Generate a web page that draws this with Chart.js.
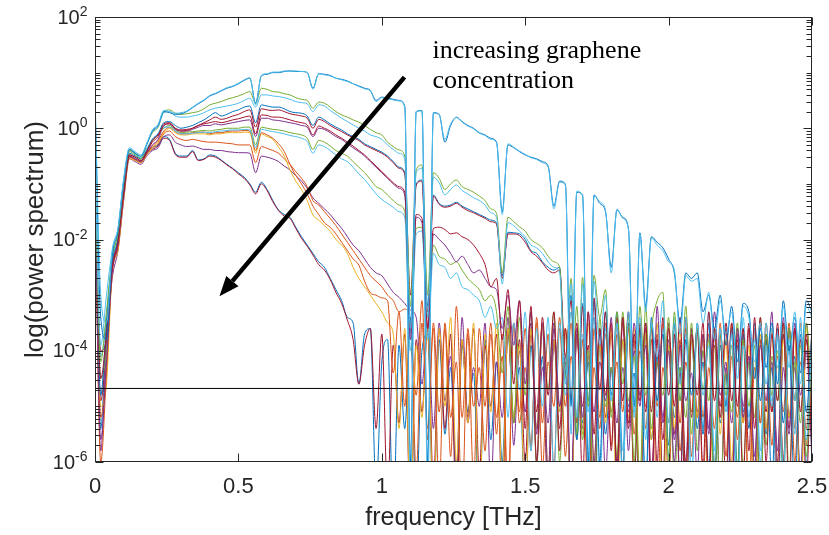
<!DOCTYPE html>
<html>
<head>
<meta charset="utf-8">
<script src="https://cdn.jsdelivr.net/npm/chart.js@4.4.1/dist/chart.umd.min.js"></script>
<style>
  html, body { margin: 0; padding: 0; background: #fff; }
  #wrap { width: 829px; height: 535px; }
</style>
</head>
<body>
<div id="wrap"><canvas id="spectrumChart"></canvas></div>
<script>
// frequency grid [THz], 0 .. 2.5 in steps of 0.02
const freq = Array.from({ length: 126 }, (_, i) => +(i * 0.02).toFixed(2));

// log10(power spectrum), one array per trace
const A1 = [0.5,-3.4,-3.8,-2.3,-1.85,-0.95,-0.38,-0.45,-0.5,-0.3,
  -0.05,0.05,0.3,0.28,0.25,0.26,0.3,0.37,0.44,0.5,
  0.58,0.62,0.67,0.72,0.75,0.8,0.86,0.9,0.45,0.94,
  0.97,1.0,1.0,1.02,1.03,1.02,1.02,1.0,0.72,0.98,
  0.97,0.95,0.9,0.88,0.85,0.8,0.76,0.72,0.68,0.5,
  0.56,0.54,0.52,0.5,0.4,-6,0.3,0.32,-6,0.28,
  0.25,-0.25,0.05,0.2,0.12,0.05,0.0,-0.08,-0.12,-0.18,
  -0.25,-1.5,-0.3,-0.35,-0.42,-0.48,-0.52,-0.55,-0.6,-0.68,
  -1.4,-0.95,-1.0,-5,-1.15,-1.2,-6,-1.2,-1.35,-1.5,
  -2.5,-1.47,-1.6,-1.8,-5,-1.88,-3.2,-1.95,-2.05,-2.15,
  -2.35,-2.6,-3.5,-2.6,-2.7,-2.6,-3.3,-3.0,-3.6,-3.0,
  -3.9,-3.2,-4.2,-3.15,-3.3,-4.5,-3.6,-4.3,-3.5,-4.6,
  -3.1,-4.0,-3.4,-4.4,-3.1,-3.3];
const A2 = [0.6,-3.0,-3.5,-2.2,-1.8,-0.9,-0.35,-0.42,-0.48,-0.28,
  -0.03,0.07,0.32,0.3,0.27,0.28,0.31,0.38,0.45,0.51,
  0.59,0.63,0.68,0.73,0.76,0.81,0.87,0.91,0.42,0.95,
  0.98,1.01,1.01,1.03,1.03,1.03,1.02,1.0,0.7,0.98,
  0.96,0.94,0.9,0.87,0.84,0.8,0.75,0.71,0.67,0.48,
  0.55,0.53,0.51,0.49,0.38,-6.5,0.3,0.31,-6.5,0.27,
  0.24,-0.2,0.08,0.19,0.11,0.04,-0.01,-0.09,-0.13,-0.2,
  -0.26,-1.55,-0.28,-0.34,-0.41,-0.47,-0.53,-0.56,-0.62,-0.7,
  -1.45,-0.97,-1.02,-5.5,-1.13,-1.22,-6.5,-1.22,-1.32,-1.48,
  -2.6,-1.45,-1.62,-1.82,-5.2,-1.9,-3.3,-1.97,-2.1,-2.2,
  -2.4,-2.55,-3.7,-2.65,-2.75,-2.7,-3.5,-2.95,-3.8,-3.1,
  -3.7,-3.3,-4.5,-3.2,-3.4,-4.2,-3.5,-4.6,-3.6,-4.3,
  -3.2,-4.3,-3.3,-4.6,-3.2,-3.4];
const B1 = [-0.8,-4.2,-3.3,-2.3,-1.9,-1.0,-0.4,-0.45,-0.55,-0.3,
  -0.08,0.02,0.3,0.33,0.27,0.25,0.26,0.28,0.3,0.35,
  0.42,0.45,0.48,0.52,0.55,0.58,0.62,0.66,0.45,0.72,
  0.7,0.66,0.65,0.62,0.6,0.55,0.52,0.5,0.36,0.47,
  0.45,0.38,0.3,0.24,0.2,0.15,0.11,0.05,-0.02,-0.08,
  -0.12,-0.25,-0.33,-0.39,-0.5,-3.2,-0.75,-0.66,-3.0,-0.8,
  -0.9,-1.1,-1.0,-0.93,-1.05,-1.1,-1.15,-1.22,-1.3,-1.45,
  -1.53,-2.6,-1.6,-1.68,-1.77,-1.85,-2.0,-2.07,-2.15,-2.3,
  -2.4,-2.5,-4.5,-2.7,-5.5,-2.68,-5.0,-2.64,-3.4,-2.9,
  -5.2,-3.3,-4.6,-3.4,-6.0,-3.2,-4.8,-3.6,-3.1,-2.95,
  -6.0,-3.3,-4.9,-3.2,-5.5,-3.6,-4.7,-3.8,-6.5,-3.7,
  -4.8,-3.9,-6.2,-3.8,-5.0,-3.9,-6.8,-3.7,-4.8,-4.0,
  -6.3,-3.6,-4.9,-3.9,-5.9,-3.8];
const B2 = [-0.7,-3.9,-3.0,-2.2,-1.8,-0.95,-0.38,-0.44,-0.52,-0.28,
  -0.06,0.03,0.28,0.3,0.22,0.2,0.2,0.22,0.24,0.28,
  0.33,0.36,0.38,0.4,0.42,0.45,0.5,0.54,0.38,0.6,
  0.6,0.58,0.57,0.55,0.52,0.48,0.46,0.44,0.3,0.42,
  0.4,0.32,0.25,0.18,0.12,0.06,0.0,-0.05,-0.12,-0.15,
  -0.2,-0.3,-0.38,-0.45,-0.55,-3.6,-0.8,-0.72,-3.4,-0.88,
  -0.98,-1.2,-1.1,-1.02,-1.12,-1.18,-1.25,-1.3,-1.38,-1.52,
  -1.6,-2.8,-1.7,-1.75,-1.85,-1.95,-2.1,-2.15,-2.25,-2.4,
  -2.5,-2.6,-4.6,-2.8,-5.2,-2.8,-6.0,-2.75,-3.9,-3.0,
  -4.9,-3.5,-6.4,-3.3,-4.7,-3.4,-5.6,-3.5,-4.1,-3.1,
  -5.3,-3.5,-4.6,-3.4,-6.4,-3.5,-4.8,-3.9,-5.8,-3.6,
  -5.1,-3.7,-6.6,-3.9,-4.7,-3.8,-6.0,-3.9,-5.0,-3.7,
  -6.1,-3.8,-4.9,-3.6,-5.6,-3.7];
const C1 = [-1.0,-4.8,-3.5,-2.4,-2.0,-1.1,-0.45,-0.5,-0.55,-0.4,
  -0.2,-0.1,0.1,0.12,0.05,0.0,0.02,0.05,0.1,0.15,
  0.22,0.28,0.22,0.25,0.3,0.33,0.38,0.4,0.1,0.42,
  0.4,0.38,0.38,0.35,0.3,0.28,0.27,0.22,0.05,0.2,
  0.15,0.08,0.02,-0.03,-0.1,-0.15,-0.2,-0.28,-0.33,-0.38,
  -0.43,-0.5,-0.6,-0.7,-0.8,-3.5,-1.0,-0.93,-3.2,-1.2,
  -1.35,-1.4,-1.38,-1.33,-1.4,-1.45,-1.5,-1.55,-1.6,-1.65,
  -1.7,-2.65,-1.87,-1.88,-1.9,-2.0,-2.2,-2.25,-2.4,-2.5,
  -2.55,-2.5,-4.4,-3.0,-5.6,-3.15,-4.9,-3.1,-6.0,-3.3,
  -4.8,-3.3,-6.2,-3.5,-5.0,-3.6,-6.5,-3.4,-4.9,-3.7,
  -5.7,-3.5,-6.3,-3.8,-4.8,-3.6,-5.5,-3.5,-6.6,-3.9,
  -5.0,-3.6,-6.1,-3.7,-5.4,-3.5,-4.9,-3.8,-6.4,-3.6,
  -5.3,-3.9,-6.7,-3.7,-5.1,-3.6];
const C2 = [-1.1,-4.5,-3.7,-2.5,-2.05,-1.15,-0.48,-0.52,-0.58,-0.42,
  -0.22,-0.12,0.05,0.08,0.0,-0.05,-0.04,0.0,0.05,0.1,
  0.15,0.2,0.16,0.18,0.22,0.25,0.3,0.33,0.02,0.35,
  0.33,0.32,0.33,0.3,0.26,0.24,0.22,0.18,0.0,0.16,
  0.12,0.05,-0.01,-0.06,-0.12,-0.17,-0.22,-0.3,-0.35,-0.4,
  -0.45,-0.52,-0.62,-0.72,-0.82,-3.0,-1.02,-0.95,-3.6,-1.22,
  -1.37,-1.42,-1.4,-1.35,-1.42,-1.48,-1.52,-1.57,-1.62,-1.68,
  -1.72,-2.7,-1.9,-1.9,-1.93,-2.05,-2.22,-2.3,-2.42,-2.55,
  -2.6,-2.55,-4.1,-3.1,-5.3,-3.2,-6.4,-3.05,-4.7,-3.3,
  -5.8,-3.4,-4.9,-3.3,-6.3,-3.5,-5.1,-3.6,-6.0,-3.4,
  -4.8,-3.7,-6.5,-3.4,-5.2,-3.6,-6.1,-3.3,-4.9,-3.7,
  -6.4,-3.5,-5.0,-3.6,-5.8,-3.4,-6.7,-3.7,-5.1,-3.5,
  -6.0,-3.6,-4.9,-3.8,-6.3,-3.6];
const D1 = [-1.2,-5.6,-4.2,-2.6,-2.1,-1.2,-0.5,-0.55,-0.6,-0.45,
  -0.3,-0.2,0.05,0.08,-0.02,-0.05,-0.05,-0.02,0.02,0.05,
  0.05,0.08,0.06,0.08,0.1,0.12,0.14,0.15,-0.15,0.18,
  0.18,0.15,0.14,0.12,0.1,0.08,0.05,0.02,-0.15,0.0,
  -0.02,-0.08,-0.15,-0.2,-0.28,-0.35,-0.42,-0.5,-0.6,-0.7,
  -0.8,-0.9,-1.0,-1.08,-1.2,-3.8,-1.6,-1.7,-3.6,-1.9,
  -2.0,-2.1,-2.25,-2.4,-2.3,-2.45,-2.6,-2.55,-2.7,-2.85,
  -2.9,-3.6,-3.0,-3.9,-3.1,-4.6,-3.3,-5.5,-3.5,-6.2,
  -3.6,-5.0,-4.1,-6.4,-3.7,-5.2,-3.3,-6.0,-4.2,-4.9,
  -3.4,-6.3,-4.3,-5.1,-3.5,-4.8,-3.9,-6.7,-3.2,-5.3,
  -4.0,-6.0,-3.9,-4.9,-4.4,-6.2,-3.7,-5.4,-3.3,-4.8,
  -4.2,-6.5,-3.6,-5.2,-4.1,-5.9,-3.9,-4.9,-3.3,-6.4,
  -4.3,-5.5,-3.5,-4.8,-4.0,-6.0];
const D2 = [-1.15,-4.0,-3.8,-2.5,-2.0,-1.15,-0.48,-0.52,-0.58,-0.43,
  -0.25,-0.15,0.08,0.1,0.0,-0.03,-0.02,0.0,0.05,0.08,
  0.1,0.12,0.1,0.12,0.15,0.17,0.2,0.22,-0.1,0.24,
  0.23,0.2,0.2,0.18,0.15,0.12,0.1,0.06,-0.12,0.04,
  0.0,-0.05,-0.12,-0.18,-0.25,-0.32,-0.4,-0.48,-0.58,-0.68,
  -0.78,-0.88,-0.98,-1.05,-1.15,-3.6,-1.55,-1.62,-3.3,-1.8,
  -1.78,-1.82,-1.9,-1.88,-1.95,-2.0,-2.1,-2.25,-2.45,-2.85,
  -2.7,-3.8,-2.9,-4.6,-3.1,-5.4,-3.2,-6.0,-3.4,-4.8,
  -3.3,-5.8,-3.6,-4.9,-3.5,-6.3,-3.3,-5.5,-3.6,-4.8,
  -3.5,-6.1,-3.4,-5.3,-3.7,-4.9,-3.5,-6.4,-3.8,-5.6,
  -3.6,-5.0,-3.4,-6.2,-3.7,-4.8,-3.5,-6.5,-3.6,-5.2,
  -3.5,-4.9,-3.8,-6.3,-3.6,-5.4,-3.4,-6.0,-3.7,-4.9,
  -3.5,-6.6,-3.6,-5.1,-3.7,-5.8];
const E1 = [-0.9,-4.5,-4.0,-2.4,-1.95,-1.05,-0.42,-0.48,-0.55,-0.4,
  -0.22,-0.12,0.0,0.05,-0.03,-0.08,-0.07,-0.06,-0.05,-0.04,
  -0.05,-0.03,-0.02,0.0,0.0,0.0,0.02,0.02,-0.3,0.02,
  0.0,-0.02,-0.03,-0.05,-0.08,-0.1,-0.12,-0.18,-0.38,-0.22,
  -0.25,-0.32,-0.4,-0.45,-0.5,-0.6,-0.7,-0.8,-0.92,-1.05,
  -1.1,-1.2,-1.3,-1.38,-1.5,-3.6,-1.8,-1.78,-3.4,-2.1,
  -2.3,-2.35,-2.45,-2.4,-2.55,-2.7,-2.8,-2.9,-3.1,-3.0,
  -3.3,-4.4,-3.2,-5.3,-3.4,-4.8,-3.3,-6.1,-3.5,-4.7,
  -3.3,-6.0,-4.2,-4.9,-3.2,-5.6,-4.0,-6.8,-3.4,-5.0,
  -4.3,-5.9,-3.3,-4.9,-4.1,-6.3,-3.2,-5.4,-4.2,-4.8,
  -3.4,-6.4,-4.3,-5.2,-3.5,-5.8,-4.0,-4.9,-3.6,-6.8,
  -4.4,-5.1,-3.5,-6.1,-4.2,-5.2,-3.4,-5.7,-4.1,-4.9,
  -3.5,-6.2,-4.2,-5.3,-3.5,-5.0];
const E2 = [-0.85,-4.1,-3.4,-2.35,-1.9,-1.0,-0.4,-0.46,-0.53,-0.37,
  -0.2,-0.1,0.02,0.02,-0.05,-0.1,-0.1,-0.09,-0.08,-0.07,
  -0.08,-0.06,-0.05,-0.04,-0.03,-0.03,-0.02,-0.03,-0.35,-0.02,
  -0.04,-0.06,-0.08,-0.1,-0.13,-0.15,-0.18,-0.24,-0.45,-0.3,
  -0.33,-0.4,-0.48,-0.55,-0.6,-0.7,-0.82,-0.92,-1.05,-1.18,
  -1.28,-1.35,-1.42,-1.5,-1.6,-4.0,-1.9,-1.85,-3.8,-2.25,
  -2.45,-2.5,-2.7,-2.6,-2.85,-2.9,-3.0,-3.1,-3.4,-3.2,
  -3.6,-3.4,-5.2,-3.5,-4.7,-3.3,-5.8,-3.6,-5.0,-3.4,
  -6.2,-3.5,-4.8,-3.3,-5.6,-3.7,-5.1,-3.4,-6.5,-3.6,
  -4.9,-3.5,-5.8,-3.3,-5.1,-3.8,-6.6,-3.5,-5.2,-3.6,
  -5.9,-3.4,-4.9,-3.7,-6.3,-3.5,-5.4,-3.3,-6.0,-3.6,
  -5.0,-3.7,-6.7,-3.4,-5.2,-3.6,-5.8,-3.5,-4.9,-3.8,
  -6.4,-3.6,-5.5,-3.4,-6.0,-3.7];
const F1 = [-1.3,-5.0,-4.6,-2.6,-2.2,-1.25,-0.55,-0.58,-0.62,-0.48,
  -0.35,-0.25,-0.08,0.0,-0.08,-0.12,-0.12,-0.1,-0.1,-0.1,
  -0.12,-0.1,-0.1,-0.08,-0.08,-0.08,-0.07,-0.08,-0.45,-0.1,
  -0.15,-0.2,-0.34,-0.5,-0.75,-0.95,-1.1,-1.3,-1.56,-1.65,
  -1.75,-1.85,-2.0,-2.1,-2.25,-2.5,-2.7,-2.85,-3.0,-3.15,
  -3.3,-3.5,-3.7,-5.4,-3.6,-6.8,-3.9,-5.2,-3.5,-7.0,
  -3.6,-5.0,-3.4,-6.0,-3.8,-5.3,-3.5,-7.0,-3.7,-5.1,
  -3.5,-6.4,-3.6,-5.2,-3.9,-7.0,-3.6,-5.4,-3.5,-6.2,
  -3.8,-5.1,-3.6,-7.0,-3.7,-5.5,-3.5,-6.0,-3.9,-5.3,
  -3.6,-7.0,-3.8,-5.2,-3.6,-6.5,-3.7,-5.6,-3.5,-7.0,
  -3.9,-5.4,-3.6,-6.3,-3.8,-5.2,-3.7,-7.0,-3.6,-5.5,
  -3.8,-6.0,-3.6,-5.3,-3.9,-7.0,-3.7,-5.4,-3.6,-6.4,
  -3.8,-5.2,-3.7,-7.0,-3.6,-5.5];
const F2 = [-1.25,-6.0,-4.4,-2.55,-2.15,-1.2,-0.52,-0.56,-0.6,-0.46,
  -0.32,-0.22,-0.05,0.02,-0.06,-0.1,-0.1,-0.08,-0.07,-0.07,
  -0.1,-0.08,-0.08,-0.06,-0.05,-0.05,-0.04,-0.05,-0.4,-0.08,
  -0.12,-0.18,-0.28,-0.42,-0.65,-0.85,-1.0,-1.18,-1.4,-1.55,
  -1.7,-1.78,-1.9,-2.05,-2.2,-2.35,-2.46,-2.75,-2.96,-3.0,
  -3.05,-3.1,-4.4,-3.3,-5.0,-3.4,-6.2,-3.5,-5.4,-3.6,
  -6.5,-3.5,-5.2,-4.2,-6.8,-3.6,-5.0,-4.3,-5.8,-3.7,
  -5.2,-4.1,-6.8,-3.5,-5.3,-4.3,-5.7,-3.5,-6.1,-4.2,
  -5.0,-3.4,-5.9,-4.1,-5.2,-3.8,-6.6,-4.3,-5.4,-3.7,
  -5.1,-4.2,-6.2,-3.6,-5.5,-4.0,-5.0,-3.8,-6.7,-4.3,
  -5.3,-3.5,-5.8,-4.2,-5.1,-3.6,-6.3,-4.3,-5.4,-3.5,
  -5.9,-4.1,-5.2,-3.6,-6.6,-4.3,-5.3,-3.8,-5.7,-4.1,
  -5.1,-3.5,-6.0,-4.2,-5.4,-3.6];
const G1 = [-1.3,-5.8,-3.9,-2.7,-2.2,-1.3,-0.55,-0.6,-0.65,-0.5,
  -0.4,-0.35,-0.15,-0.12,-0.25,-0.3,-0.33,-0.32,-0.35,-0.38,
  -0.38,-0.4,-0.4,-0.42,-0.43,-0.44,-0.44,-0.45,-0.8,-0.5,
  -0.52,-0.55,-0.6,-0.68,-0.75,-0.85,-0.95,-1.08,-1.25,-1.35,
  -1.45,-1.55,-1.68,-1.8,-1.95,-2.1,-2.2,-2.35,-2.5,-2.6,
  -2.65,-2.8,-2.95,-3.04,-3.15,-3.27,-3.4,-4.6,-3.5,-5.4,
  -3.5,-4.9,-4.1,-6.2,-3.4,-5.3,-4.3,-5.0,-3.5,-6.5,
  -4.2,-5.2,-3.4,-5.7,-4.0,-5.1,-3.5,-6.0,-4.3,-5.3,
  -3.5,-5.0,-4.2,-6.8,-3.6,-5.4,-4.1,-5.1,-3.7,-6.2,
  -4.3,-5.3,-3.4,-5.8,-4.0,-5.0,-3.5,-6.4,-4.2,-5.2,
  -3.8,-5.6,-4.4,-6.0,-3.6,-5.1,-4.0,-5.5,-3.7,-6.7,
  -4.3,-5.3,-3.6,-5.0,-4.1,-6.1,-3.5,-5.4,-4.2,-5.8,
  -3.4,-5.2,-4.3,-6.3,-3.5,-5.1];
const G2 = [-1.2,-5.2,-4.3,-2.6,-2.15,-1.25,-0.5,-0.56,-0.62,-0.47,
  -0.35,-0.28,-0.1,-0.05,-0.15,-0.2,-0.22,-0.2,-0.22,-0.24,
  -0.25,-0.25,-0.26,-0.27,-0.28,-0.3,-0.3,-0.3,-0.62,-0.33,
  -0.36,-0.4,-0.45,-0.55,-0.65,-0.78,-0.9,-1.05,-1.3,-1.38,
  -1.5,-1.62,-1.75,-1.9,-2.05,-2.2,-2.35,-2.5,-2.65,-2.75,
  -2.85,-3.0,-3.1,-3.3,-3.25,-3.5,-4.8,-3.1,-5.6,-3.5,
  -5.1,-3.6,-5.9,-3.2,-5.2,-3.7,-6.3,-3.6,-5.0,-3.5,
  -5.5,-3.7,-6.6,-3.5,-5.1,-3.6,-5.8,-3.4,-5.3,-3.7,
  -6.1,-3.6,-5.0,-3.5,-5.6,-3.8,-6.9,-3.6,-5.2,-3.5,
  -5.7,-3.7,-5.1,-3.5,-6.3,-3.6,-5.4,-3.8,-5.0,-3.5,
  -6.5,-3.7,-5.3,-3.6,-5.9,-3.5,-5.2,-3.7,-6.2,-3.6,
  -5.0,-3.5,-5.6,-3.8,-6.8,-3.6,-5.3,-3.5,-5.1,-3.7,
  -6.0,-3.6,-5.4,-3.5,-5.7,-3.6];
const H1 = [-1.05,-5.4,-3.6,-2.5,-2.1,-1.2,-0.5,-0.55,-0.6,-0.45,
  -0.35,-0.3,-0.15,-0.2,-0.45,-0.5,-0.5,-0.4,-0.57,-0.55,
  -0.48,-0.5,-0.57,-0.65,-0.72,-0.8,-0.88,-1.0,-1.15,-0.97,
  -1.1,-1.3,-1.47,-1.55,-1.6,-1.78,-1.95,-2.1,-2.25,-2.4,
  -2.5,-2.7,-2.9,-3.1,-3.4,-3.5,-4.6,-3.7,-3.6,-6.5,
  -4.2,-3.8,-7.0,-3.9,-5.4,-3.6,-6.8,-4.0,-3.7,-7.0,
  -3.8,-5.5,-4.3,-6.3,-3.9,-5.1,-4.4,-7.0,-3.8,-5.6,
  -4.2,-6.0,-3.7,-5.2,-4.3,-7.0,-3.9,-5.4,-4.1,-6.4,
  -3.8,-5.1,-4.4,-6.7,-3.7,-5.3,-4.2,-7.0,-3.9,-5.5,
  -4.3,-6.2,-3.8,-5.0,-4.4,-7.0,-3.7,-5.6,-4.1,-6.5,
  -3.9,-5.2,-4.3,-7.0,-3.8,-5.4,-4.2,-6.1,-3.7,-5.3,
  -4.4,-7.0,-3.9,-5.1,-4.2,-6.6,-3.8,-5.5,-4.3,-7.0,
  -3.7,-5.2,-4.1,-6.3,-3.8,-5.4];
const H2 = [-1.1,-4.9,-3.9,-2.55,-2.1,-1.2,-0.52,-0.57,-0.62,-0.47,
  -0.38,-0.32,-0.18,-0.22,-0.47,-0.52,-0.52,-0.42,-0.58,-0.56,
  -0.5,-0.52,-0.58,-0.66,-0.73,-0.82,-0.9,-1.02,-1.18,-1.0,
  -1.12,-1.32,-1.48,-1.58,-1.62,-1.8,-1.98,-2.12,-2.28,-2.45,
  -2.55,-2.72,-2.95,-3.15,-3.45,-3.8,-4.6,-3.9,-3.6,-5.4,
  -3.7,-6.6,-3.9,-5.3,-3.7,-7.0,-3.8,-5.1,-3.6,-6.4,
  -3.6,-5.4,-3.7,-7.0,-3.8,-5.2,-3.6,-6.2,-3.9,-5.0,
  -3.7,-6.8,-3.6,-5.3,-3.8,-6.0,-3.7,-5.1,-3.5,-7.0,
  -3.8,-5.4,-3.6,-6.5,-3.7,-5.0,-3.9,-7.0,-3.6,-5.2,
  -3.7,-6.1,-3.5,-5.4,-3.8,-6.9,-3.6,-5.1,-3.7,-6.3,
  -3.5,-5.5,-3.8,-7.0,-3.6,-5.2,-3.7,-6.4,-3.9,-5.0,
  -3.6,-6.7,-3.7,-5.3,-3.5,-7.0,-3.8,-5.1,-3.6,-6.0,
  -3.7,-5.4,-3.6,-6.8,-3.8,-5.2];

// horizontal reference level (noise threshold)
const NOISE_LEVEL = 2.1e-5;

// axis ticks
const X_TICKS = [0, 0.5, 1, 1.5, 2, 2.5];
const Y_LABEL_EXP = [-6, -4, -2, 0, 2];

// annotation
const ARROW_FROM = { x: 1.079, y: 8.3 };
const ARROW_TO = { x: 0.434, y: 9.5e-4 };
const NOTE_LINES = ['increasing graphene', 'concentration'];
const NOTE_POS = [{ x: 1.177, y: 18.3 }, { x: 1.177, y: 5.3 }];

// MATLAB default colour order
const BLUE = '#0072BD', ORANGE = '#D95319', YELLOW = '#EDB120', PURPLE = '#7E2F8E',
      GREEN = '#77AC30', CYAN = '#4DBEEE', DARKRED = '#A2142F';

const traces = [
  { v: H1, c: BLUE }, { v: H2, c: DARKRED },
  { v: G1, c: PURPLE }, { v: G2, c: ORANGE },
  { v: F1, c: YELLOW }, { v: F2, c: ORANGE },
  { v: E1, c: GREEN }, { v: E2, c: CYAN },
  { v: D1, c: PURPLE }, { v: D2, c: DARKRED },
  { v: C1, c: BLUE }, { v: C2, c: DARKRED },
  { v: B1, c: GREEN }, { v: B2, c: CYAN },
  { v: A1, c: BLUE }, { v: A2, c: CYAN },
];

const AXIS_COLOR = '#262626';
const SANS = "'Liberation Sans', Arial, Helvetica, sans-serif";

const datasets = traces.map((t, k) => ({
  data: freq.map((f, i) => ({ x: f, y: Math.pow(10, t.v[i]) })),
  borderColor: t.c,
  borderWidth: 1,
  pointRadius: 0,
  cubicInterpolationMode: 'monotone',
  clip: 0,
  order: traces.length - k,
}));
datasets.push({
  data: [{ x: 0, y: NOISE_LEVEL }, { x: 2.5, y: NOISE_LEVEL }],
  borderColor: '#000000',
  borderWidth: 1,
  pointRadius: 0,
  clip: 0,
  order: -1,
});

const matlabAxes = {
  id: 'matlabAxes',
  afterDatasetsDraw(chart) {
    const { ctx, chartArea: a, scales: { x, y } } = chart;
    ctx.save();
    ctx.strokeStyle = AXIS_COLOR;
    ctx.lineWidth = 1;
    const L = Math.round(a.left) + 0.5, R = Math.round(a.right) - 0.5;
    const T = Math.round(a.top) + 0.5, B = Math.round(a.bottom) - 0.5;
    ctx.strokeRect(L, T, R - L, B - T);
    ctx.beginPath();
    X_TICKS.forEach(v => {
      const px = Math.round(x.getPixelForValue(v)) + 0.5;
      ctx.moveTo(px, B); ctx.lineTo(px, B - 8);
      ctx.moveTo(px, T); ctx.lineTo(px, T + 8);
    });
    for (let e = -6; e <= 2; e++) {
      for (let m = 1; m < 10; m++) {
        if (e === 2 && m > 1) break;
        const py = Math.round(y.getPixelForValue(m * Math.pow(10, e))) + 0.5;
        const len = (m === 1 && Y_LABEL_EXP.includes(e)) ? 8 : 5;
        ctx.moveTo(L, py); ctx.lineTo(L + len, py);
        ctx.moveTo(R, py); ctx.lineTo(R - len, py);
      }
    }
    ctx.stroke();

    // y tick labels 10^n
    ctx.fillStyle = AXIS_COLOR;
    Y_LABEL_EXP.forEach(e => {
      const py = y.getPixelForValue(Math.pow(10, e));
      const right = L - 8;
      ctx.textAlign = 'right';
      ctx.font = '14px ' + SANS;
      ctx.textBaseline = 'alphabetic';
      const ex = e < 0 ? '-' + Math.abs(e) : String(e);
      ctx.fillText(ex, right, py - 1);
      const w = ctx.measureText(ex).width;
      ctx.font = '20px ' + SANS;
      ctx.textBaseline = 'middle';
      ctx.fillText('10', right - w, py + 1);
    });

    // arrow
    const x0 = x.getPixelForValue(ARROW_FROM.x), y0 = y.getPixelForValue(ARROW_FROM.y);
    const x1 = x.getPixelForValue(ARROW_TO.x), y1 = y.getPixelForValue(ARROW_TO.y);
    const ang = Math.atan2(y1 - y0, x1 - x0);
    const head = 20, half = 8;
    const bx = x1 - head * Math.cos(ang), by = y1 - head * Math.sin(ang);
    ctx.strokeStyle = '#000';
    ctx.lineWidth = 4.5;
    ctx.beginPath();
    ctx.moveTo(x0, y0); ctx.lineTo(bx, by);
    ctx.stroke();
    ctx.fillStyle = '#000';
    ctx.beginPath();
    ctx.moveTo(x1, y1);
    ctx.lineTo(bx + half * Math.sin(ang), by - half * Math.cos(ang));
    ctx.lineTo(bx - half * Math.sin(ang), by + half * Math.cos(ang));
    ctx.closePath();
    ctx.fill();

    // note text
    ctx.font = "26px 'Liberation Serif', 'Times New Roman', serif";
    ctx.textAlign = 'left';
    ctx.textBaseline = 'alphabetic';
    NOTE_LINES.forEach((s, i) => {
      ctx.fillText(s, x.getPixelForValue(NOTE_POS[i].x), y.getPixelForValue(NOTE_POS[i].y));
    });
    ctx.restore();
  }
};

new Chart(document.getElementById('spectrumChart'), {
  type: 'line',
  data: { datasets },
  options: {
    responsive: true,
    maintainAspectRatio: false,
    animation: false,
    devicePixelRatio: 1,
    layout: { padding: { top: 17, right: 17, left: 0, bottom: 0 } },
    plugins: { legend: { display: false }, tooltip: { enabled: false } },
    scales: {
      x: {
        type: 'linear',
        min: 0,
        max: 2.5,
        grid: { display: false, drawTicks: false },
        border: { display: false },
        ticks: {
          stepSize: 0.5,
          maxRotation: 0,
          autoSkip: false,
          padding: 12,
          color: AXIS_COLOR,
          font: { family: SANS, size: 22 },
          callback: v => String(v),
        },
        title: {
          display: true,
          text: 'frequency [THz]',
          color: AXIS_COLOR,
          font: { family: SANS, size: 25 },
          padding: { top: 0, bottom: 2 },
        },
        afterFit: s => { s.height = 73; s.paddingLeft = 0; s.paddingRight = 0; },
      },
      y: {
        type: 'logarithmic',
        min: 1e-6,
        max: 1e2,
        grid: { display: false, drawTicks: false },
        border: { display: false },
        ticks: { display: false },
        title: {
          display: true,
          text: 'log(power spectrum)',
          color: AXIS_COLOR,
          font: { family: SANS, size: 26 },
          padding: { top: 20, bottom: 0 },
        },
        afterFit: s => { s.width = 95; },
      },
    },
  },
  plugins: [matlabAxes],
});
</script>
</body>
</html>
